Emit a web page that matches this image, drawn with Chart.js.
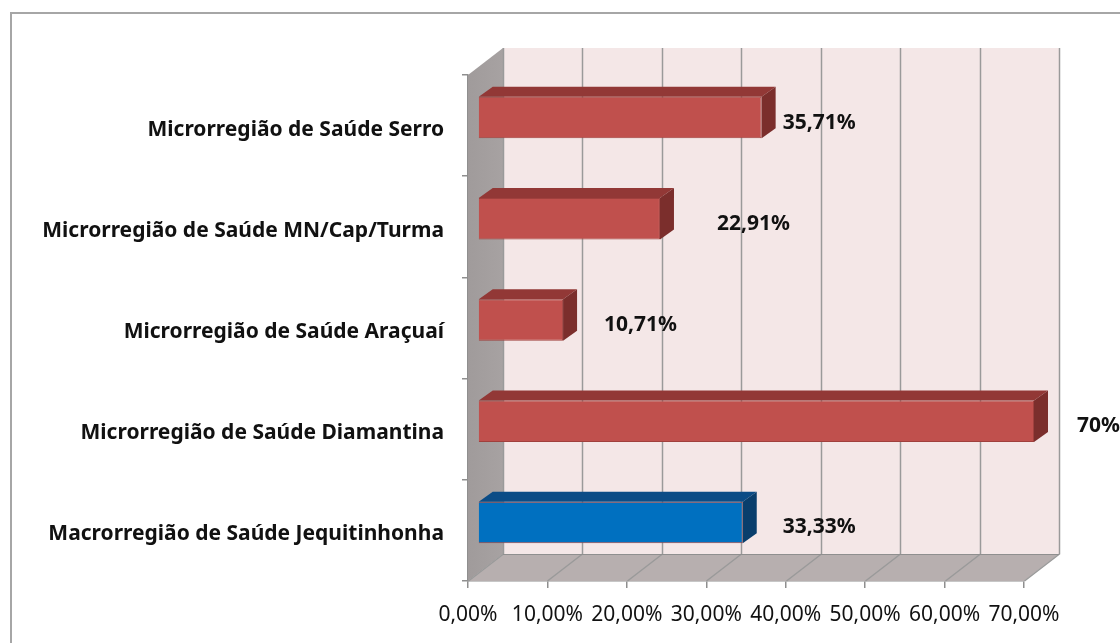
<!DOCTYPE html>
<html>
<head>
<meta charset="utf-8">
<script src="https://cdn.jsdelivr.net/npm/chart.js@4.4.1/dist/chart.umd.min.js"></script>
<style>
  html, body { margin: 0; padding: 0; background: #fff; overflow: hidden; }
  #wrap { position: relative; width: 1120px; height: 643px; overflow: hidden; }
  #frame { position: absolute; left: 10px; top: 12px; width: 1200px; height: 700px; border: 2px solid #a6a6a6; box-sizing: border-box; }
  #c { position: absolute; left: 0; top: 0; }
</style>
</head>
<body>
<div id="wrap">
  <div id="frame"></div>
  <canvas id="c" width="1120" height="643"></canvas>
</div>
<script>
// ---- data ----
const categories = [
  'Microrregião de Saúde Serro',
  'Microrregião de Saúde MN/Cap/Turma',
  'Microrregião de Saúde Araçuaí',
  'Microrregião de Saúde Diamantina',
  'Macrorregião de Saúde Jequitinhonha'
];
const values = [35.71, 22.91, 10.71, 70, 33.33];
const valueLabels = ['35,71%', '22,91%', '10,71%', '70%', '33,33%'];
const xTickValues = [0, 10, 20, 30, 40, 50, 60, 70];

// ---- styles ----
const RED = { front: '#C0504D', top: '#923836', side: '#7B2E2C' };
const BLUE = { front: '#0070C0', top: '#0B4C86', side: '#093E6C' };
const isMacro = categories.map(c => c.startsWith('Macro'));
const labelNudge = [21, 57, 41, 43, 40];

const threeD = {
  id: 'threeD',
  beforeDatasetsDraw(chart, args, o) {
    const { ctx, chartArea: a, scales: { x } } = chart;
    const dx = o.wallDx, dy = o.wallDy;
    ctx.save();
    // back wall
    ctx.fillStyle = o.backWall;
    ctx.fillRect(a.left + dx, a.top + dy, a.right - a.left, a.bottom - a.top);
    // floor
    ctx.fillStyle = o.floor;
    ctx.beginPath();
    ctx.moveTo(a.left, a.bottom);
    ctx.lineTo(a.right, a.bottom);
    ctx.lineTo(a.right + dx, a.bottom + dy);
    ctx.lineTo(a.left + dx, a.bottom + dy);
    ctx.closePath();
    ctx.fill();
    // left wall
    const g = ctx.createLinearGradient(a.left, 0, a.left + dx, 0);
    g.addColorStop(0, o.sideWall1);
    g.addColorStop(1, o.sideWall2);
    ctx.fillStyle = g;
    ctx.beginPath();
    ctx.moveTo(a.left, a.top);
    ctx.lineTo(a.left + dx, a.top + dy);
    ctx.lineTo(a.left + dx, a.bottom + dy);
    ctx.lineTo(a.left, a.bottom);
    ctx.closePath();
    ctx.fill();
    // grid lines on back wall + floor
    ctx.strokeStyle = o.grid;
    ctx.lineWidth = 1.5;
    x.ticks.forEach(t => {
      const px = Math.round(x.getPixelForValue(t.value)) + 0.5;
      ctx.beginPath();
      ctx.moveTo(px + dx, a.top + dy);
      ctx.lineTo(px + dx, a.bottom + dy);
      ctx.lineTo(px, a.bottom);
      ctx.stroke();
    });
    // back-floor edge line
    ctx.strokeStyle = o.edge;
    ctx.lineWidth = 1;
    ctx.beginPath();
    ctx.moveTo(a.left + dx, a.bottom + dy + 0.5);
    ctx.lineTo(a.right + dx, a.bottom + dy + 0.5);
    ctx.stroke();
    ctx.restore();
  },
  beforeDatasetDraw(chart, args, o) {
    chart.ctx.save();
    chart.ctx.translate(o.barDx, o.barDy);
  },
  afterDatasetDraw(chart, args, o) {
    const ctx = chart.ctx;
    const meta = args.meta;
    meta.data.forEach((bar, i) => {
      const p = bar.getProps(['x', 'y', 'base', 'height'], true);
      const t = p.y - p.height / 2, b = p.y + p.height / 2;
      const c = isMacro[i] ? BLUE : RED;
      const ddx = o.barDepthDx, ddy = o.barDepthDy;
      ctx.fillStyle = c.top;
      ctx.beginPath();
      ctx.moveTo(p.base, t);
      ctx.lineTo(p.x, t);
      ctx.lineTo(p.x + ddx, t + ddy);
      ctx.lineTo(p.base + ddx, t + ddy);
      ctx.closePath();
      ctx.fill();
      ctx.fillStyle = c.side;
      ctx.beginPath();
      ctx.moveTo(p.x, t);
      ctx.lineTo(p.x + ddx, t + ddy);
      ctx.lineTo(p.x + ddx, b + ddy);
      ctx.lineTo(p.x, b);
      ctx.closePath();
      ctx.fill();
    });
    ctx.restore();
  },
  afterDatasetsDraw(chart, args, o) {
    const ctx = chart.ctx;
    const meta = chart.getDatasetMeta(0);
    ctx.save();
    ctx.font = o.labelFont;
    ctx.fillStyle = '#111';
    ctx.textBaseline = 'middle';
    ctx.textAlign = 'left';
    meta.data.forEach((bar, i) => {
      const p = bar.getProps(['x', 'y'], true);
      ctx.fillText(valueLabels[i], p.x + o.barDx + labelNudge[i], p.y + o.barDy + 5);
    });
    ctx.restore();
  }
};

new Chart(document.getElementById('c'), {
  type: 'bar',
  data: {
    labels: categories,
    datasets: [{
      data: values,
      backgroundColor: isMacro.map(m => m ? BLUE.front : RED.front),
      borderColor: '#A0403D',
      borderWidth: 1,
      barPercentage: 0.41,
      categoryPercentage: 1,
      clip: false
    }]
  },
  plugins: [threeD],
  options: {
    indexAxis: 'y',
    responsive: false,
    devicePixelRatio: 1,
    animation: false,
    layout: { padding: { top: 75, right: 96, left: 0, bottom: 0 } },
    plugins: {
      legend: { display: false },
      tooltip: { enabled: false },
      threeD: {
        wallDx: 35, wallDy: -27,
        barDx: 10, barDy: -8,
        barDepthDx: 14, barDepthDy: -10,
        backWall: '#F4E7E7', floor: '#B7AFAF',
        sideWall1: '#A09B9B', sideWall2: '#A7A2A2',
        grid: '#9a9a9a', edge: '#8f8f8f',
        labelFont: 'bold 21px "Noto Sans"'
      }
    },
    scales: {
      x: {
        min: 0, max: 70,
        afterBuildTicks: s => { s.ticks = xTickValues.map(v => ({ value: v })); },
        afterFit: s => { s.height = 62; },
        grid: { drawOnChartArea: false, drawTicks: true, tickLength: 7, color: '#8f8f8f', lineWidth: 1.5 },
        border: { display: true, color: '#8f8f8f', width: 1.5 },
        ticks: {
          padding: 14,
          color: '#111',
          font: { family: 'Noto Sans', size: 21 },
          callback: v => v.toFixed(2).replace('.', ',') + '%'
        }
      },
      y: {
        afterFit: s => { s.width = 468; },
        grid: { drawOnChartArea: false, drawTicks: true, tickLength: 6, offset: true, color: '#8f8f8f', lineWidth: 1.5 },
        border: { display: true, color: '#8f8f8f', width: 1.5 },
        ticks: {
          padding: 18,
          labelOffset: 4,
          color: '#111',
          font: { family: 'Noto Sans', size: 21, weight: 'bold' }
        }
      }
    }
  }
});
</script>
</body>
</html>
